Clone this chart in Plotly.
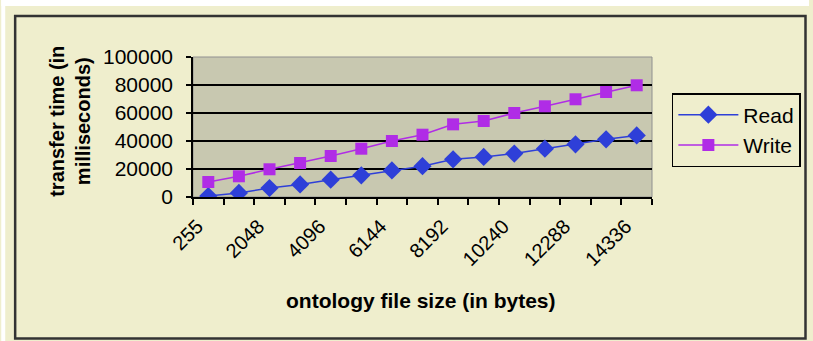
import plotly.graph_objects as go

categories = ["255", "1024", "2048", "3072", "4096", "5120", "6144", "7168",
              "8192", "9216", "10240", "11264", "12288", "13312", "14336"]
read_ms = [700, 2900, 6400, 9000, 12400, 15500, 19000, 22000,
           26900, 28600, 31000, 34500, 37600, 41200, 44000]
write_ms = [10700, 14800, 19800, 24300, 29300, 34500, 40000, 44500,
            51900, 54300, 60000, 64800, 69800, 75000, 79800]
shown_labels = [c if i % 2 == 0 else "" for i, c in enumerate(categories)]

W, H = 813, 341
L, R, T, B = 193, 655, 57, 197
pw, ph = R - L, B - T

def px(x):
    return (x - L) / pw

def py(y):
    return (B - y) / ph

BLUE = "#2E3FD8"
PURPLE = "#B02CE6"
YELLOW = "#EFEECD"
PLOTBG = "#C8C8B0"
FONT = "Liberation Sans, Arial, sans-serif"

fig = go.Figure()
fig.add_trace(go.Scatter(x=categories, y=read_ms, name="Read", mode="lines+markers",
                         line=dict(color=BLUE, width=1.5),
                         marker=dict(symbol="diamond", size=14, color=BLUE)))
fig.add_trace(go.Scatter(x=categories, y=write_ms, name="Write", mode="lines+markers",
                         line=dict(color=PURPLE, width=1.5),
                         marker=dict(symbol="square", size=12, color=PURPLE)))

fig.update_layout(
    width=W, height=H,
    margin=dict(l=L, r=W - R, t=T, b=H - B, pad=0),
    paper_bgcolor=YELLOW, plot_bgcolor=PLOTBG,
    font=dict(family=FONT, size=21, color="black"),
    showlegend=True,
    legend=dict(x=px(675), y=py(93), xanchor="left", yanchor="top",
                bgcolor="rgba(0,0,0,0)", bordercolor="black", borderwidth=1.5,
                font=dict(size=21), tracegroupgap=0, itemwidth=60),
    xaxis=dict(type="category", tickmode="array", tickvals=categories, ticktext=shown_labels,
               tickson="boundaries", ticks="outside", ticklen=6, tickcolor="black", tickwidth=1.5,
               tickangle=-45, showgrid=False, showline=True, linecolor="black", linewidth=1.5,
               tickfont=dict(size=20), range=[-0.5, 14.5], ticklabelstandoff=8,
               ticklabelshift=-11),
    yaxis=dict(range=[0, 100000], dtick=20000, tick0=0, ticks="outside", ticklen=5,
               tickcolor="black", tickwidth=1.5, showgrid=True, gridcolor="black", gridwidth=1.5,
               showline=True, linecolor="black", linewidth=1.5, zeroline=False,
               tickformat="d", tickfont=dict(size=21), ticklabelstandoff=9),
)

# plot-area gray frame
fig.add_shape(type="rect", xref="paper", yref="paper", x0=0, x1=1, y0=0, y1=1,
              line=dict(color="#909090", width=1), layer="below")
# outer white strips
fig.add_shape(type="rect", xref="paper", yref="paper", x0=px(0), x1=px(W), y0=py(0), y1=py(6),
              fillcolor="white", line=dict(width=0))
fig.add_shape(type="rect", xref="paper", yref="paper", x0=px(0), x1=px(4), y0=py(0), y1=py(H),
              fillcolor="white", line=dict(width=0))
# chart border
fig.add_shape(type="rect", xref="paper", yref="paper", x0=px(14), x1=px(809.5), y0=py(338.5), y1=py(16),
              line=dict(color="#333333", width=2.5))

fig.add_annotation(text="transfer time (in<br>milliseconds)", xref="paper", yref="paper",
                   x=px(69), y=py(121), textangle=-90, showarrow=False,
                   font=dict(size=20, family=FONT, weight="bold"), xanchor="center", yanchor="middle")
fig.add_annotation(text="ontology file size (in bytes)", xref="paper", yref="paper",
                   x=px(422), y=py(300), showarrow=False,
                   font=dict(size=21, family=FONT, weight="bold"), xanchor="center", yanchor="middle")

fig.write_html("out.html", config={"displayModeBar": False},
               post_script="document.body.style.margin='0';document.body.style.overflow='hidden';")
